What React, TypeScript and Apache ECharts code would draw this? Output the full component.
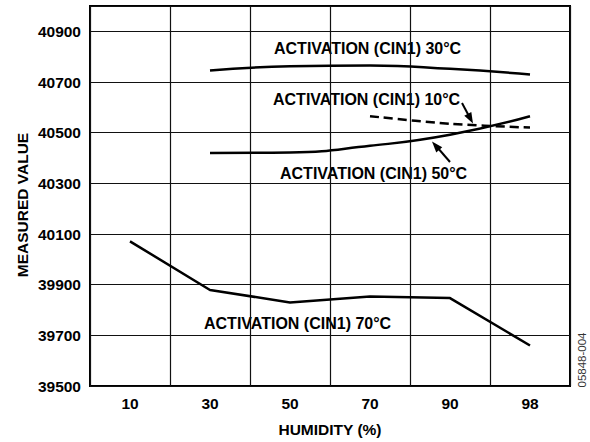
import React, { useEffect, useRef } from "react";
import * as echarts from "echarts";

const humidity = ["10", "30", "50", "70", "90", "98"];
const act30 = [null, 40745, 40762, 40765, 40752, 40730];
const act10 = [null, null, null, 40565, 40535, 40520];
const act50 = [null, 40420, 40422, 40448, 40492, 40565];
const act70 = [40071, 39879, 39830, 39853, 39847, 39660];
const yTicks = [39500, 39700, 39900, 40100, 40300, 40500, 40700, 40900];

const FONT = '"Liberation Sans", Arial, Helvetica, sans-serif';
const FS = 15.5;

export default function App() {
  const ref = useRef<HTMLDivElement>(null);
  useEffect(() => {
    if (!ref.current) return;
    const chart = echarts.init(ref.current, null, { renderer: "svg" });
    const textStyle = (t: string, x: number, y: number) => ({
      type: "text",
      x,
      y,
      style: {
        text: t,
        fill: "#000",
        fontSize: 16,
        fontWeight: "bold",
        fontFamily: FONT,
        align: "left",
        verticalAlign: "middle",
      },
    });
    const arrowHead = (tx: number, ty: number, fx: number, fy: number) => {
      const dx = tx - fx;
      const dy = ty - fy;
      const len = Math.sqrt(dx * dx + dy * dy);
      const ux = dx / len;
      const uy = dy / len;
      const L = 11;
      const W = 4;
      const bx = tx - ux * L;
      const by = ty - uy * L;
      return {
        type: "polygon",
        shape: {
          points: [
            [tx, ty],
            [bx - uy * W, by + ux * W],
            [bx + uy * W, by - ux * W],
          ],
        },
        style: { fill: "#000" },
      };
    };
    chart.setOption({
      animation: false,
      backgroundColor: "#fff",
      grid: {
        left: 90,
        top: 6,
        right: 20,
        bottom: 53,
        show: true,
        borderColor: "#000",
        borderWidth: 2,
      },
      xAxis: {
        type: "category",
        data: humidity,
        boundaryGap: true,
        axisLine: { show: false },
        axisTick: { show: false },
        axisLabel: {
          margin: 9,
          color: "#000",
          fontSize: FS,
          fontWeight: "bold",
          fontFamily: FONT,
        },
        splitLine: { show: true, lineStyle: { color: "#111", width: 1.2 } },
        name: "HUMIDITY (%)",
        nameLocation: "middle",
        nameGap: 35,
        nameTextStyle: {
          color: "#000",
          fontSize: FS,
          fontWeight: "bold",
          fontFamily: FONT,
        },
      },
      yAxis: {
        type: "value",
        min: yTicks[0],
        max: 41000,
        interval: 200,
        axisLine: { show: false },
        axisTick: { show: false },
        axisLabel: {
          margin: 9,
          color: "#000",
          fontSize: FS,
          fontWeight: "bold",
          fontFamily: FONT,
          formatter: (v: number) => (yTicks.includes(v) ? String(v) : ""),
        },
        splitLine: { show: true, lineStyle: { color: "#111", width: 1.2 } },
      },
      series: [
        {
          name: "ACTIVATION (CIN1) 30°C",
          type: "line",
          data: act30,
          smooth: 0.5,
          showSymbol: false,
          lineStyle: { color: "#000", width: 2.5 },
        },
        {
          name: "ACTIVATION (CIN1) 10°C",
          type: "line",
          data: act10,
          smooth: 0.3,
          showSymbol: false,
          lineStyle: { color: "#000", width: 2.5, type: [9, 5] },
        },
        {
          name: "ACTIVATION (CIN1) 50°C",
          type: "line",
          data: act50,
          smooth: 0.5,
          showSymbol: false,
          lineStyle: { color: "#000", width: 2.5 },
        },
        {
          name: "ACTIVATION (CIN1) 70°C",
          type: "line",
          data: act70,
          smooth: false,
          showSymbol: false,
          lineStyle: { color: "#000", width: 2.5 },
        },
      ],
      graphic: [
        {
          type: "text",
          x: 22,
          y: 205,
          rotation: Math.PI / 2,
          style: {
            text: "MEASURED VALUE",
            fill: "#000",
            fontSize: FS,
            fontWeight: "bold",
            fontFamily: FONT,
            align: "center",
            verticalAlign: "middle",
          },
        },
        textStyle("ACTIVATION (CIN1) 30°C", 274, 48),
        textStyle("ACTIVATION (CIN1) 10°C", 273, 99),
        textStyle("ACTIVATION (CIN1) 50°C", 280, 173),
        textStyle("ACTIVATION (CIN1) 70°C", 204, 323),
        {
          type: "line",
          shape: { x1: 462, y1: 103, x2: 470, y2: 118 },
          style: { stroke: "#000", lineWidth: 2 },
        },
        arrowHead(473, 123.5, 462, 103),
        {
          type: "line",
          shape: { x1: 450, y1: 162, x2: 437, y2: 147 },
          style: { stroke: "#000", lineWidth: 2 },
        },
        arrowHead(432, 141.5, 450, 162),
        {
          type: "text",
          x: 582,
          y: 360,
          rotation: Math.PI / 2,
          style: {
            text: "05848-004",
            fill: "#333",
            fontSize: 11.5,
            fontFamily: FONT,
            align: "center",
            verticalAlign: "middle",
          },
        },
      ],
    });
    return () => chart.dispose();
  }, []);
  return (
    <div
      ref={ref}
      style={{ position: "fixed", left: 0, top: 0, width: 590, height: 442 }}
    />
  );
}
